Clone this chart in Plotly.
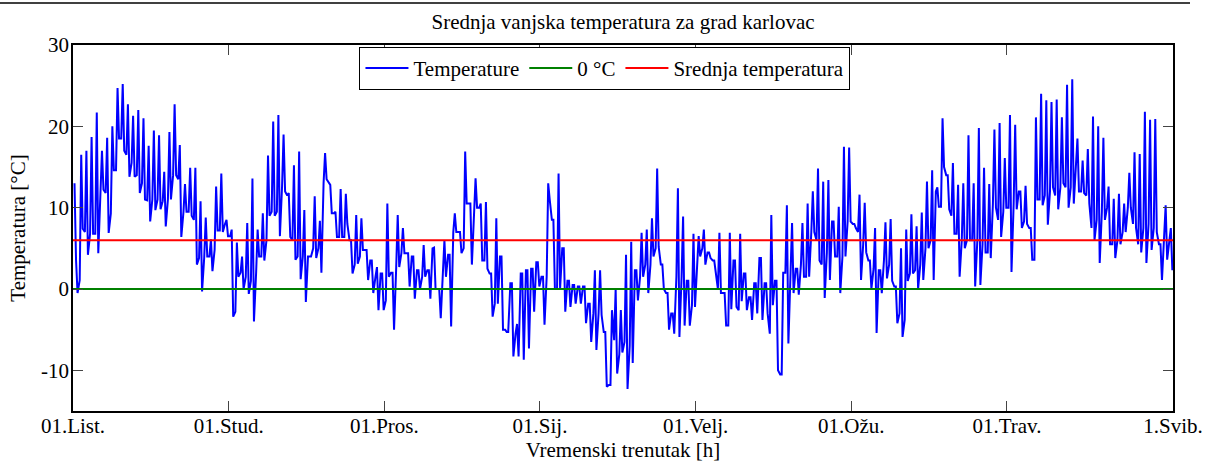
import plotly.graph_objects as go

# Daily readings (7h, 14h, 21h), 01.10. -> 30.04., degrees C
t07 = [13.0, 1.1, 7.0, 6.8, 6.8, 12.4, 11.8, 9.3, 14.6, 18.5,
       16.5, 15.5, 14.0, 13.0, 10.9, 11.0, 11.0, 10.8, 11.0, 14.0,
       13.5, 9.5, 9.5, 8.5, 3.8, 3.9, 4.0, 4.8, 7.2, 8.0,
       6.5, -2.8, 2.0, 1.5, 1.0, 2.0, 4.0, 6.0, 9.5, 9.5,
       12.6, 11.5, 6.0, 4.0, 4.0, 4.0, 5.0, 5.0, 13.0, 13.0,
       9.3, 6.4, 6.4, 6.0, 3.0, 4.0, 4.8, 3.5, 1.5, 1.9,
       -1.4, 2.0, 2.7, 4.4, 4.4, 4.0, 2.3, 1.5, 2.3, 5.0,
       0.0, 1.5, 4.2, 7.0, 7.0, 5.0, 10.5, 10.0, 10.0, 3.5,
       1.9, -1.8, 4.0, -5.0, 0.7, -5.5, 1.9, 2.3, 2.5, 3.3,
       1.5, 1.5, 8.5, 0.0, 5.0, 1.0, 0.5, 0.3, 0.3, -1.8,
       -3.0, -3.0, -5.3, -11.8, -6.3, -8.0, -6.5, -7.0, 2.3, 1.5,
       3.0, 3.0, 5.0, 3.0, -0.5, -3.0, 1.5, 1.5, 1.0, -2.0,
       4.0, 5.0, 4.5, 3.5, 0.0, -0.5, -4.5, 3.5, -2.6, 1.9,
       -1.0, 0.7, 3.8, 0.7, -5.5, 1.0, -10.5, 2.0, 1.5, 2.5,
       3.0, 1.5, 7.0, 6.0, 3.0, 4.5, 8.3, 4.0, 4.0, 8.3,
       8.0, 7.0, 5.5, 3.5, 2.5, 2.3, 3.5, 3.0, 0.3, -3.0,
       -3.8, 1.9, 2.3, 3.0, 5.0, 6.0, 12.0, 10.1, 14.0, 9.0,
       6.8, 6.0, 6.0, 6.0, 6.0, 5.5, 4.5, 10.5, 8.5, 9.5,
       10.0, 10.5, 12.0, 8.3, 7.5, 3.6, 11.0, 11.5, 12.0, 11.5,
       12.5, 12.5, 12.5, 15.0, 12.0, 11.5, 7.5, 8.5, 9.5, 10.0,
       5.5, 6.0, 7.0, 10.0, 8.0, 5.5, 7.5, 8.0, 7.5, 5.5,
       7.0, 6.0]
t14 = [3.6, 16.5, 17.0, 18.7, 21.7, 17.0, 18.6, 20.0, 24.7, 25.2,
       22.7, 21.3, 22.0, 21.0, 17.6, 19.5, 18.9, 14.4, 19.3, 22.7,
       17.7, 12.9, 14.9, 14.9, 10.8, 8.8, 6.1, 12.6, 14.2, 8.5,
       7.3, 5.7, 4.0, 8.1, 13.6, 7.3, 9.3, 16.4, 20.6, 21.4,
       19.0, 11.8, 15.2, 16.9, 9.7, 4.0, 11.4, 8.4, 16.7, 12.8,
       9.5, 12.3, 11.7, 6.0, 9.1, 8.7, 4.8, 3.5, 2.7, 1.9,
       10.5, 2.0, 9.1, 7.5, 4.4, 4.0, 2.3, 5.4, 2.3, 5.1,
       0.0, 6.0, 4.2, 9.3, 7.0, 16.9, 10.5, 13.6, 10.5, 10.7,
       1.9, 8.7, 4.0, -5.3, 0.7, -4.3, 1.9, 2.3, 2.5, 3.3,
       1.5, 13.0, 8.5, 14.2, 5.0, 1.0, 0.5, 0.3, 0.3, -1.8,
       2.3, 2.3, -5.3, -11.8, 0.0, -2.6, 4.2, 5.8, 2.3, 6.9,
       7.3, 8.7, 14.8, 3.0, -0.5, -3.0, 12.4, 8.9, 1.0, 6.8,
       6.5, 7.3, 4.5, 3.5, 6.9, -0.5, 6.9, 3.5, 6.8, 1.9,
       -1.0, 0.7, 3.8, 0.7, 9.1, 1.0, -10.5, 10.3, 8.1, 2.5,
       8.1, 10.5, 12.0, 14.8, 13.2, 13.4, 8.3, 10.1, 17.5, 17.4,
       8.0, 11.6, 10.6, 3.5, 7.5, 2.3, 8.2, 8.6, 0.3, 5.0,
       7.3, 9.2, 7.7, 9.4, 13.2, 14.6, 12.5, 21.0, 14.0, 15.5,
       12.8, 13.0, 18.9, 13.0, 19.8, 14.9, 12.9, 19.6, 20.4, 16.1,
       21.4, 20.2, 12.0, 12.7, 7.5, 21.1, 24.0, 23.2, 23.0, 23.3,
       21.1, 25.1, 25.8, 18.5, 15.8, 17.2, 21.2, 20.0, 18.6, 12.6,
       11.1, 11.7, 10.5, 14.3, 16.8, 16.6, 21.8, 20.8, 20.9, 5.5,
       10.3, 7.5]
t21 = [-0.5, 7.4, 4.2, 6.8, 4.4, 12.2, 6.9, 14.6, 18.5, 17.0,
       13.8, 13.8, 11.8, 11.0, 8.3, 9.7, 9.8, 7.7, 11.0, 14.0,
       6.4, 9.5, 9.0, 3.0, -0.3, 4.0, 2.2, 7.2, 7.0, 6.5,
       -3.4, 1.5, 0.0, -0.6, -4.0, 4.0, 3.5, 9.0, 9.0, 6.5,
       12.0, 6.4, 3.6, 1.2, -1.6, 4.0, 3.8, 2.0, 13.5, 9.3,
       6.4, 6.4, 8.0, 1.9, 3.1, 4.8, 1.1, -0.5, -2.6, -2.6,
       1.5, -5.0, 2.7, 4.4, 0.3, -1.2, 0.0, 1.5, -1.2, 0.0,
       -3.6, 1.5, -4.6, 7.0, 4.4, 10.5, 3.0, 10.0, 3.5, 2.5,
       -3.4, -1.8, -5.0, -5.3, -8.3, -8.3, -8.7, -7.3, -2.8, 0.3,
       -4.4, 11.0, 0.0, 0.0, -2.8, -2.2, -1.8, -1.8, -4.2, -6.5,
       -7.5, -3.2, -12.0, -2.6, -10.4, -7.8, -12.3, -9.1, -1.4, 1.5,
       -0.5, 4.0, 5.2, 0.0, -5.0, -5.5, -5.9, -4.5, -4.5, -2.2,
       4.0, 3.0, 3.8, 2.3, -0.5, -4.5, -2.5, -2.2, -1.5, -2.6,
       -3.8, -3.0, -3.8, -3.0, -2.0, -10.0, 2.0, -6.7, -0.5, -0.7,
       1.5, 1.5, 7.0, 3.5, -1.1, 1.1, 4.0, -0.5, 4.0, 8.3,
       7.5, 1.1, 4.5, 0.0, -5.4, -0.5, 1.3, 1.0, -4.2, -5.9,
       1.0, 1.9, 0.0, 1.1, 5.0, 1.1, 10.1, 15.0, 9.8, 6.8,
       1.5, 5.0, 6.0, 0.3, 0.5, 4.5, 3.8, 10.0, 6.4, 10.0,
       2.1, 9.8, 7.5, 8.0, 3.6, 11.0, 10.3, 7.9, 12.5, 9.8,
       13.0, 10.0, 10.5, 12.0, 11.8, 10.5, 6.0, 3.2, 8.5, 5.5,
       3.8, 5.5, 7.0, 10.0, 7.5, 4.5, 3.2, 4.8, 7.0, 1.1,
       3.6, 2.3]
reading_hours = [7, 14, 21]

mean_temp = 6.0
zero_temp = 0.0
x_end_hours = 5088

tick_hours = [0, 720, 1440, 2160, 2880, 3600, 4320, 5088]
tick_labels = ["01.List.", "01.Stud.", "01.Pros.", "01.Sij.", "01.Velj.",
               "01.Ožu.", "01.Trav.", "1.Svib."]
y_ticks = [-10, 0, 10, 20, 30]
y_tick_labels = ["-10", "0", "10", "20", "30"]

# Build hourly time axis from the day readings
x_vals, y_vals = [], []
for d in range(len(t07)):
    for h, v in zip(reading_hours, (t07[d], t14[d], t21[d])):
        x_vals.append(24 * d + h)
        y_vals.append(v)

FONT = "Liberation Serif, Times New Roman, serif"

fig = go.Figure()
fig.add_trace(go.Scatter(x=x_vals, y=y_vals, mode="lines", name="Temperature",
                         line=dict(color="#0000FF", width=2)))
fig.add_trace(go.Scatter(x=[0, x_end_hours], y=[zero_temp, zero_temp], mode="lines",
                         name="0 °C", line=dict(color="#008000", width=2)))
fig.add_trace(go.Scatter(x=[0, x_end_hours], y=[mean_temp, mean_temp], mode="lines",
                         name="Srednja temperatura", line=dict(color="#FF0000", width=2)))

axis_common = dict(showline=True, linecolor="black", linewidth=1.5, mirror="ticks",
                   ticks="inside", ticklen=10, tickcolor="#444444", tickwidth=1,
                   showgrid=False, zeroline=False, automargin=False,
                   tickfont=dict(family=FONT, size=21, color="black"))

fig.update_layout(
    width=1206, height=462,
    margin=dict(l=73, r=33, t=45, b=51, autoexpand=False),
    paper_bgcolor="white", plot_bgcolor="white",
    font=dict(family=FONT, size=21, color="black"),
    title=dict(text="Srednja vanjska temperatura za grad karlovac",
               x=(73 + 1173) / 2 / 1206, xanchor="center",
               y=1 - 22 / 462, yanchor="middle", automargin=False,
               font=dict(family=FONT, size=21, color="black")),
    xaxis=dict(range=[0, x_end_hours], tickvals=tick_hours, ticktext=tick_labels,
               ticklabelstandoff=-5,
               title=dict(text="Vremenski trenutak [h]", standoff=0,
                          font=dict(family=FONT, size=21)),
               **axis_common),
    yaxis=dict(range=[-15, 30], tickvals=y_ticks, ticktext=y_tick_labels,
               ticklabelstandoff=-2,
               title=dict(text="Temperatura [°C]", standoff=10,
                          font=dict(family=FONT, size=21)),
               **axis_common),
    legend=dict(orientation="h", x=0.4836, xanchor="center", y=0.995, yanchor="top",
                itemwidth=43,
                bgcolor="white", bordercolor="black", borderwidth=1,
                font=dict(family=FONT, size=21)),
    shapes=[dict(type="line", xref="paper", yref="paper",
                 x0=-73 / 1100, x1=(1190 - 73) / 1100,
                 y0=(411 - 3) / 366, y1=(411 - 3) / 366,
                 line=dict(color="black", width=1.5))],
)

fig.write_html("out.html", config={"displayModeBar": False},
               post_script="document.body.style.margin='0px';")
